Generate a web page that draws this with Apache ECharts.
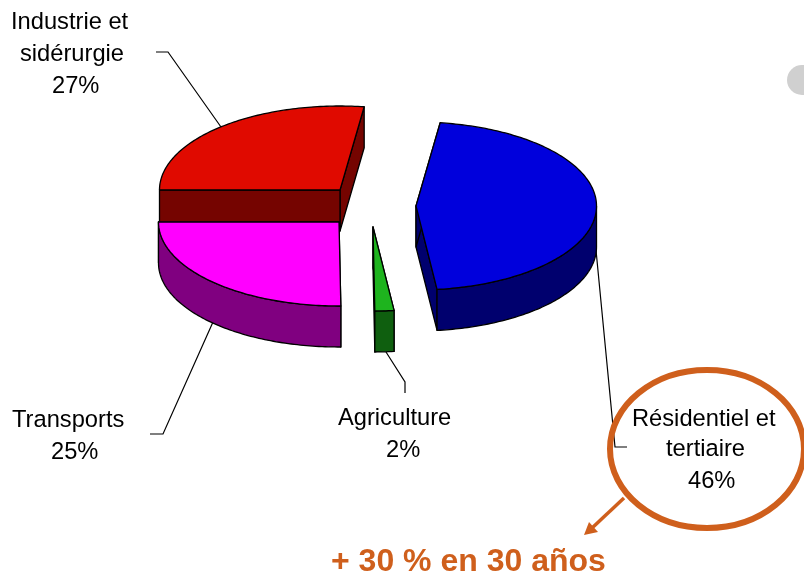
<!DOCTYPE html>
<html>
<head>
<meta charset="utf-8">
<style>
html, body { margin: 0; padding: 0; background: #fff; }
#main { width: 804px; height: 576px; }
</style>
<script src="https://cdn.jsdelivr.net/npm/echarts@6/dist/echarts.min.js"></script>
</head>
<body>
<div id="main"></div>
<script>
// slices, counter-clockwise from the first cut
var sliceNames = ['Industrie et sidérurgie', 'Transports', 'Agriculture', 'Résidentiel et tertiaire'];
var sliceValues = [27.1, 25.2, 1.7, 46.0];
var labelLines = [['Industrie et', 'sidérurgie'], ['Transports'], ['Agriculture'], ['Résidentiel et', 'tertiaire']];
var topColors = ['#e00a00', '#ff00ff', '#1eb41e', '#0000dc'];
var sideColors = ['#750400', '#800080', '#0f5f0f', '#00006e'];
var annotation = '+ 30 % en 30 años';

// layout of the exploded pie
var sliceCenters = [[340, 190], [339, 222], [373, 227], [416, 206]];
var radiusX = 180.5;
var radiusY = 84;
var depth = 41;
var startAngle = 82.3;

var labelPos = [
    [[11, 22], [20, 54], [52, 86]],
    [[12, 420], [51, 452]],
    [[338, 418], [386, 450]],
    [[632, 419], [666, 449], [688, 481]]
];
var leaders = [
    [[156, 52], [168, 52], [221, 127]],
    [[150, 434], [163, 434], [213, 322]],
    [[386, 352], [405, 382], [405, 393]],
    [[596, 250], [615, 447], [627, 447]]
];

var orange = '#cf5f1c';
var total = sliceValues.reduce(function (a, b) { return a + b; }, 0);

function onEllipse(c, deg, dy) {
    var r = deg * Math.PI / 180;
    return [c[0] + radiusX * Math.cos(r), c[1] - radiusY * Math.sin(r) + (dy || 0)];
}

function arcPoints(c, from, to, dy) {
    var pts = [];
    var n = Math.max(2, Math.ceil(Math.abs(to - from)));
    for (var i = 0; i <= n; i++) {
        pts.push(onEllipse(c, from + (to - from) * i / n, dy));
    }
    return pts;
}

function poly(points, fill) {
    return {
        type: 'polygon',
        shape: { points: points },
        style: { fill: fill, stroke: '#000', lineWidth: 1.3, lineJoin: 'round' }
    };
}

function renderSlice(params, api) {
    var i = params.dataIndex;
    var before = 0;
    for (var k = 0; k < i; k++) before += sliceValues[k];
    var a0 = startAngle + before / total * 360;
    var a1 = a0 + api.value(1) / total * 360;
    var c = sliceCenters[i];
    var side = sideColors[i];
    var children = [];

    // cut faces first
    [a0, a1].forEach(function (a) {
        var e = onEllipse(c, a);
        children.push(poly([c, e, [e[0], e[1] + depth], [c[0], c[1] + depth]], side));
    });

    // outer wall, only the part facing the viewer
    var from = Math.max(a0, 180);
    var to = Math.min(a1, 360);
    if (to > from) {
        var upper = arcPoints(c, from, to, 0);
        var lower = arcPoints(c, to, from, depth);
        children.push(poly(upper.concat(lower), side));
    }

    // top face
    children.push(poly([c].concat(arcPoints(c, a0, a1, 0)), topColors[i]));

    return { type: 'group', children: children };
}

var graphics = [];

leaders.forEach(function (pts) {
    graphics.push({
        type: 'polyline',
        z: 1,
        shape: { points: pts },
        style: { stroke: '#000', lineWidth: 1.2, fill: null }
    });
});

function addText(text, x, y) {
    graphics.push({
        type: 'text',
        z: 5,
        x: x,
        y: y,
        style: {
            text: text,
            fill: '#000',
            font: '23.7px "Liberation Sans", Arial, sans-serif',
            textAlign: 'left',
            textVerticalAlign: 'middle'
        }
    });
}

labelLines.forEach(function (lines, i) {
    var pos = labelPos[i];
    lines.forEach(function (t, j) {
        addText(t, pos[j][0], pos[j][1]);
    });
    var p = pos[lines.length];
    addText(Math.round(sliceValues[i]) + '%', p[0], p[1]);
});

// grey dot at the right edge
graphics.push({
    type: 'circle',
    z: 1,
    shape: { cx: 802, cy: 80, r: 15 },
    style: { fill: '#d0d0d0' }
});

// orange callout
graphics.push({
    type: 'ellipse',
    z: 6,
    shape: { cx: 707, cy: 449, rx: 97, ry: 79 },
    style: { fill: null, stroke: orange, lineWidth: 6 }
});
graphics.push({
    type: 'line',
    z: 6,
    shape: { x1: 624, y1: 498, x2: 592, y2: 528 },
    style: { stroke: orange, lineWidth: 3.5 }
});
graphics.push({
    type: 'polygon',
    z: 6,
    shape: { points: [[584, 535], [589, 522], [598, 532]] },
    style: { fill: orange }
});
graphics.push({
    type: 'text',
    z: 6,
    x: 331,
    y: 562,
    style: {
        text: annotation,
        fill: orange,
        font: 'bold 32px "Liberation Sans", Arial, sans-serif',
        textAlign: 'left',
        textVerticalAlign: 'middle'
    }
});

var myChart = echarts.init(document.getElementById('main'));

var option = {
    animation: false,
    backgroundColor: '#fff',
    graphic: graphics,
    series: [{
        type: 'custom',
        coordinateSystem: 'none',
        z: 2,
        renderItem: renderSlice,
        encode: { value: 1, itemName: 0 },
        data: sliceNames.map(function (name, i) {
            return [name, sliceValues[i]];
        })
    }]
};

myChart.setOption(option);
</script>
</body>
</html>
